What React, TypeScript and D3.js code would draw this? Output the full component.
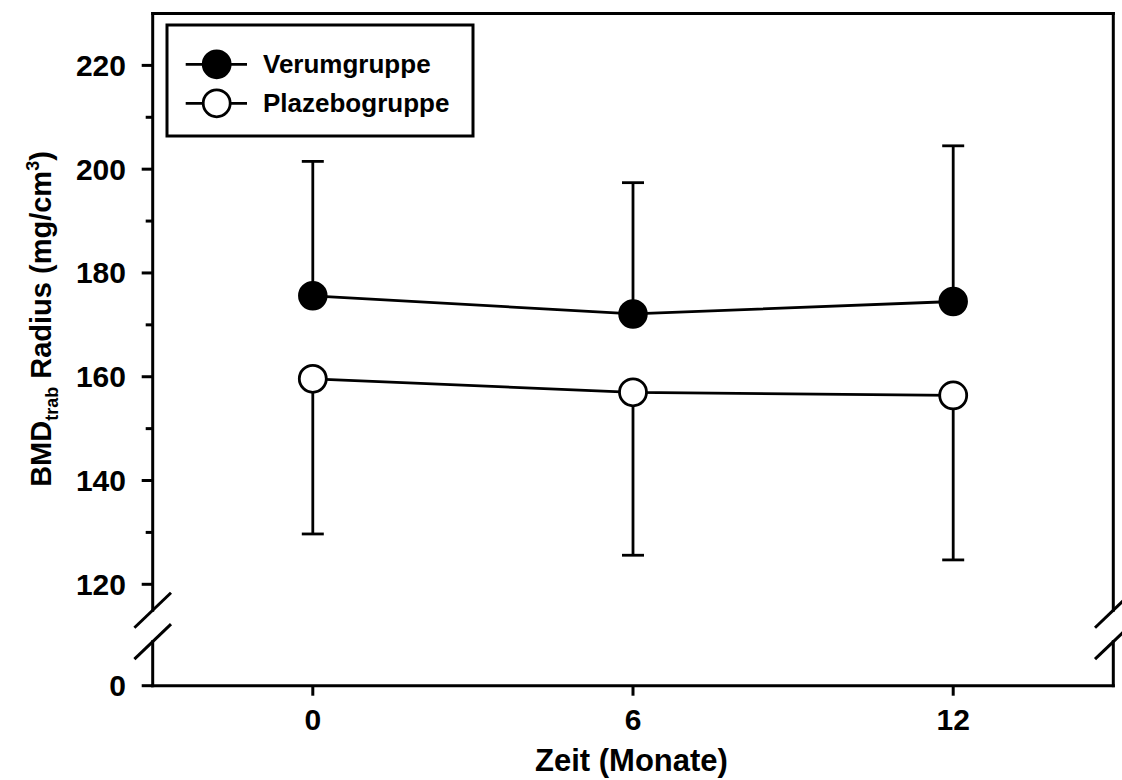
import React from "react";
import * as d3 from "d3";

// Measurement months
const months = [0, 6, 12];

// Verum group: means and upper SD
const verumMean = [175.6, 172.1, 174.5];
const verumUpper = [201.5, 197.4, 204.5];

// Placebo group: means and lower SD
const plazeboMean = [159.6, 157.0, 156.4];
const plazeboLower = [129.7, 125.6, 124.7];

const yMajorTicks = [120, 140, 160, 180, 200, 220];
const yMinorTicks = [130, 150, 170, 190, 210];
const xTicks = [0, 6, 12];

const seriesNames = ["Verumgruppe", "Plazebogruppe"];

const W = 1122;
const H = 780;
const FONT = "'Liberation Sans', Arial, Helvetica, sans-serif";

export default function App() {
  const left = 152.7;
  const right = 1113.3;
  const top = 13.5;
  const bottom = 685.7;

  const x = d3.scaleLinear().domain([-3, 15]).range([left, right]);
  // upper segment of the broken axis
  const y = d3.scaleLinear().domain([120, 230]).range([584.3, top]);
  // the lower segment only carries the zero
  const yZero = bottom;

  const breakTop = y(115);
  const breakBottom = yZero - 44;

  const line = d3
    .line<number>()
    .x((_, i) => x(months[i]))
    .y((d) => y(d));

  const r = 13.5;
  const sw = 3;
  const lw = 2.8;
  const capHalf = 11;

  const slash = (cx: number, cy: number, key: string) => (
    <line
      key={key}
      x1={cx - 18.3}
      y1={cy + 17.5}
      x2={cx + 18.3}
      y2={cy - 17.5}
      stroke="#000"
      strokeWidth={sw}
    />
  );

  return (
    <svg
      width={W}
      height={H}
      style={{ position: "absolute", left: 0, top: 0, background: "#fff" }}
      fontFamily={FONT}
    >
      <rect x={0} y={0} width={W} height={H} fill="#fff" />

      {/* frame with breaks on both sides */}
      <g stroke="#000" strokeWidth={sw} fill="none" strokeLinecap="square">
        <line x1={left} y1={top} x2={right} y2={top} />
        <line x1={left} y1={bottom} x2={right} y2={bottom} />
        <line x1={left} y1={top} x2={left} y2={breakTop} />
        <line x1={left} y1={breakBottom} x2={left} y2={bottom} />
        <line x1={right} y1={top} x2={right} y2={breakTop} />
        <line x1={right} y1={breakBottom} x2={right} y2={bottom} />
      </g>
      {slash(left, breakTop, "l1")}
      {slash(left, breakBottom, "l2")}
      {slash(right, breakTop, "r1")}
      {slash(right, breakBottom, "r2")}

      {/* y ticks */}
      <g stroke="#000" strokeWidth={sw}>
        {yMajorTicks.map((t) => (
          <line key={"M" + t} x1={left - 11} x2={left} y1={y(t)} y2={y(t)} />
        ))}
        {yMinorTicks.map((t) => (
          <line key={"m" + t} x1={left - 7} x2={left} y1={y(t)} y2={y(t)} />
        ))}
        <line x1={left - 11} x2={left} y1={yZero} y2={yZero} />
      </g>
      <g fontSize={30} fontWeight="bold" textAnchor="end" fill="#000">
        {yMajorTicks.map((t) => (
          <text key={"t" + t} x={126} y={y(t) + 10.5}>
            {t}
          </text>
        ))}
        <text x={126} y={yZero + 10.5}>
          0
        </text>
      </g>

      {/* x ticks */}
      <g stroke="#000" strokeWidth={sw}>
        {xTicks.map((t) => (
          <line key={"x" + t} x1={x(t)} x2={x(t)} y1={bottom} y2={bottom + 10} />
        ))}
      </g>
      <g fontSize={30} fontWeight="bold" textAnchor="middle" fill="#000">
        {xTicks.map((t) => (
          <text key={"xl" + t} x={x(t)} y={730}>
            {t}
          </text>
        ))}
      </g>

      {/* axis titles */}
      <text
        x={631.5}
        y={771}
        fontSize={31}
        fontWeight="bold"
        textAnchor="middle"
        fill="#000"
      >
        Zeit (Monate)
      </text>
      <text
        transform="translate(51,319) rotate(-90)"
        fontSize={29}
        fontWeight="bold"
        textAnchor="middle"
        fill="#000"
      >
        BMD
        <tspan fontSize={18} dy={7}>
          trab
        </tspan>
        <tspan dy={-7}> Radius (mg/cm</tspan>
        <tspan fontSize={18} dy={-12}>
          3
        </tspan>
        <tspan dy={12}>)</tspan>
      </text>

      {/* error bars */}
      <g stroke="#000" strokeWidth={lw}>
        {months.map((m, i) => (
          <g key={"ev" + m}>
            <line x1={x(m)} x2={x(m)} y1={y(verumMean[i])} y2={y(verumUpper[i])} />
            <line
              x1={x(m) - capHalf}
              x2={x(m) + capHalf}
              y1={y(verumUpper[i])}
              y2={y(verumUpper[i])}
            />
          </g>
        ))}
        {months.map((m, i) => (
          <g key={"ep" + m}>
            <line x1={x(m)} x2={x(m)} y1={y(plazeboMean[i])} y2={y(plazeboLower[i])} />
            <line
              x1={x(m) - capHalf}
              x2={x(m) + capHalf}
              y1={y(plazeboLower[i])}
              y2={y(plazeboLower[i])}
            />
          </g>
        ))}
      </g>

      {/* series lines */}
      <path d={line(verumMean) || ""} fill="none" stroke="#000" strokeWidth={lw} />
      <path d={line(plazeboMean) || ""} fill="none" stroke="#000" strokeWidth={lw} />

      {/* markers */}
      {months.map((m, i) => (
        <circle
          key={"cv" + m}
          cx={x(m)}
          cy={y(verumMean[i])}
          r={r}
          fill="#000"
          stroke="#000"
          strokeWidth={2.5}
        />
      ))}
      {months.map((m, i) => (
        <circle
          key={"cp" + m}
          cx={x(m)}
          cy={y(plazeboMean[i])}
          r={r}
          fill="#fff"
          stroke="#000"
          strokeWidth={2.8}
        />
      ))}

      {/* legend */}
      <rect x={167} y={25} width={306} height={111} fill="#fff" stroke="#000" strokeWidth={sw} />
      {seriesNames.map((name, i) => {
        const ly = i === 0 ? 64.3 : 103.3;
        return (
          <g key={name}>
            <line x1={185.7} x2={247} y1={ly} y2={ly} stroke="#000" strokeWidth={lw} />
            <circle
              cx={216.7}
              cy={ly}
              r={r}
              fill={i === 0 ? "#000" : "#fff"}
              stroke="#000"
              strokeWidth={2.8}
            />
            <text x={263} y={ly + 8.5} fontSize={26} fontWeight="bold" fill="#000">
              {name}
            </text>
          </g>
        );
      })}
    </svg>
  );
}
